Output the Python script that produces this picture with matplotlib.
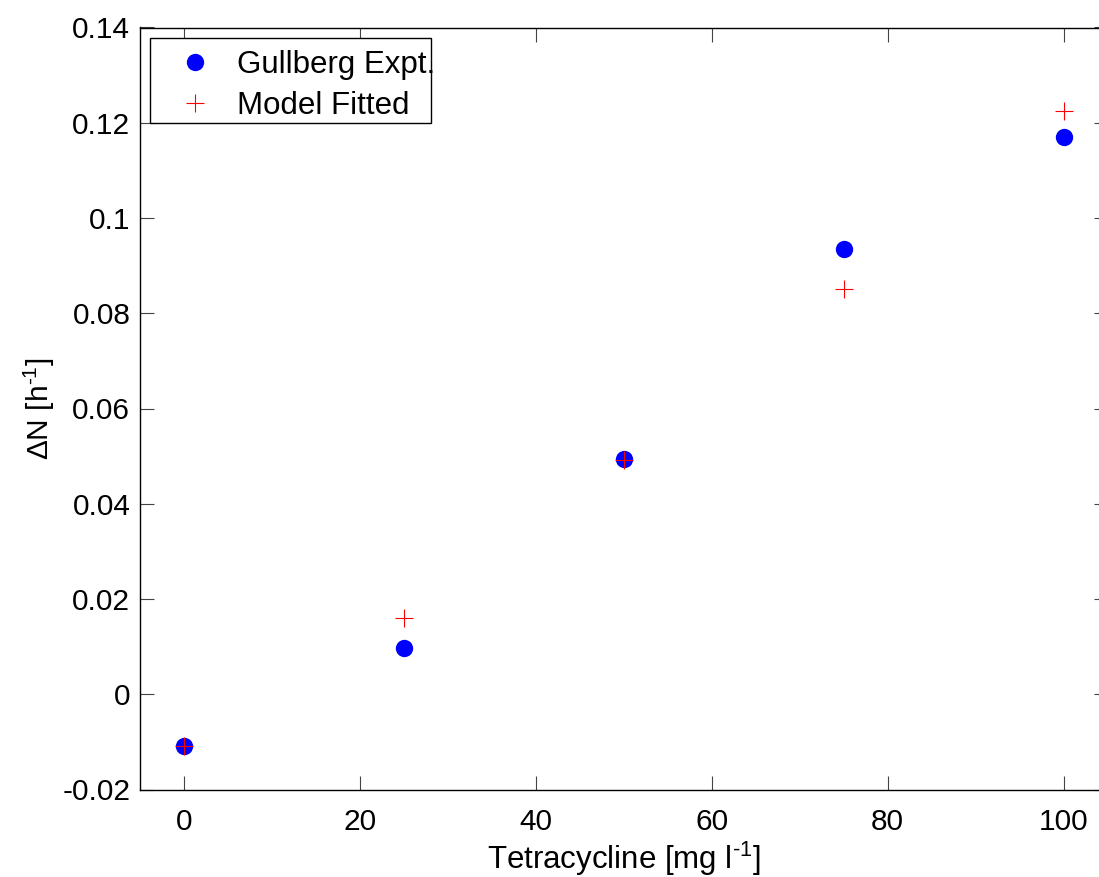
import matplotlib
matplotlib.use("Agg")
import matplotlib.pyplot as plt
from matplotlib.patches import Rectangle

conc = [0, 25, 50, 75, 100]
expt = [-0.0108, 0.0098, 0.0494, 0.0935, 0.1171]
model = [-0.0108, 0.0161, 0.0492, 0.0850, 0.1224]
xticks = [0, 20, 40, 60, 80, 100]
yticks = [-0.02, 0, 0.02, 0.04, 0.06, 0.08, 0.1, 0.12, 0.14]
yticklabels = ["-0.02", "0", "0.02", "0.04", "0.06", "0.08", "0.1", "0.12", "0.14"]

plt.rcParams['font.family'] = ['Liberation Sans', 'DejaVu Sans']
plt.rcParams['mathtext.fontset'] = 'custom'
plt.rcParams['mathtext.rm'] = 'Liberation Sans'
plt.rcParams['mathtext.it'] = 'Liberation Sans'

FS = 21.5
FSL = 22.5
FSLEG = 22.5
W, H = 1099, 877
fig = plt.figure(figsize=(W / 100, H / 100), dpi=100)
left, right, top, bottom = 140, 1107.5, 27.5, 789.5
ax = fig.add_axes([left / W, 1 - bottom / H, (right - left) / W, (bottom - top) / H])

ax.plot(conc, expt, 'o', color='#0000ff', markersize=12.5, markeredgewidth=0, label='Gullberg Expt.')
ax.plot(conc, model, '+', color='#ff0000', markersize=12.5, markeredgewidth=0.8, label='Model Fitted')

ax.set_xlim(-5, 105)
ax.set_ylim(-0.02, 0.14)
ax.set_xticks(xticks)
ax.set_yticks(yticks)
ax.set_yticklabels(yticklabels)
ax.tick_params(direction='in', length=10, width=0.8, top=True, right=True,
               labelsize=FS, color='#444444')
ax.tick_params(axis='x', pad=13)
ax.tick_params(axis='y', pad=7)
for s in ax.spines.values():
    s.set_linewidth(1.0)
    s.set_color('black')

ax.set_xlabel(r'Tetracycline [mg l$^{\text{-1}}$]', fontsize=FSL, labelpad=3)
ax.set_ylabel(r'ΔN [h$^{\text{-1}}$]', fontsize=FS, labelpad=4)

# legend box (MATLAB style, fixed frame)
lx0, ly0, lx1, ly1 = 150, 38, 431, 123
frame = Rectangle((lx0 / W, 1 - ly1 / H), (lx1 - lx0) / W, (ly1 - ly0) / H,
                  transform=fig.transFigure, facecolor='white', edgecolor='black',
                  linewidth=1.0, zorder=4.5, clip_on=False)
ax.add_patch(frame)

leg = ax.legend(loc='upper left',
                bbox_to_anchor=(lx0 / W, 1 - ly0 / H), bbox_transform=fig.transFigure,
                fontsize=FSLEG, frameon=False,
                borderaxespad=0, handletextpad=0.3, borderpad=0.38, labelspacing=0.36,
                handlelength=2.1)

fig.savefig('out.png', dpi=100)
